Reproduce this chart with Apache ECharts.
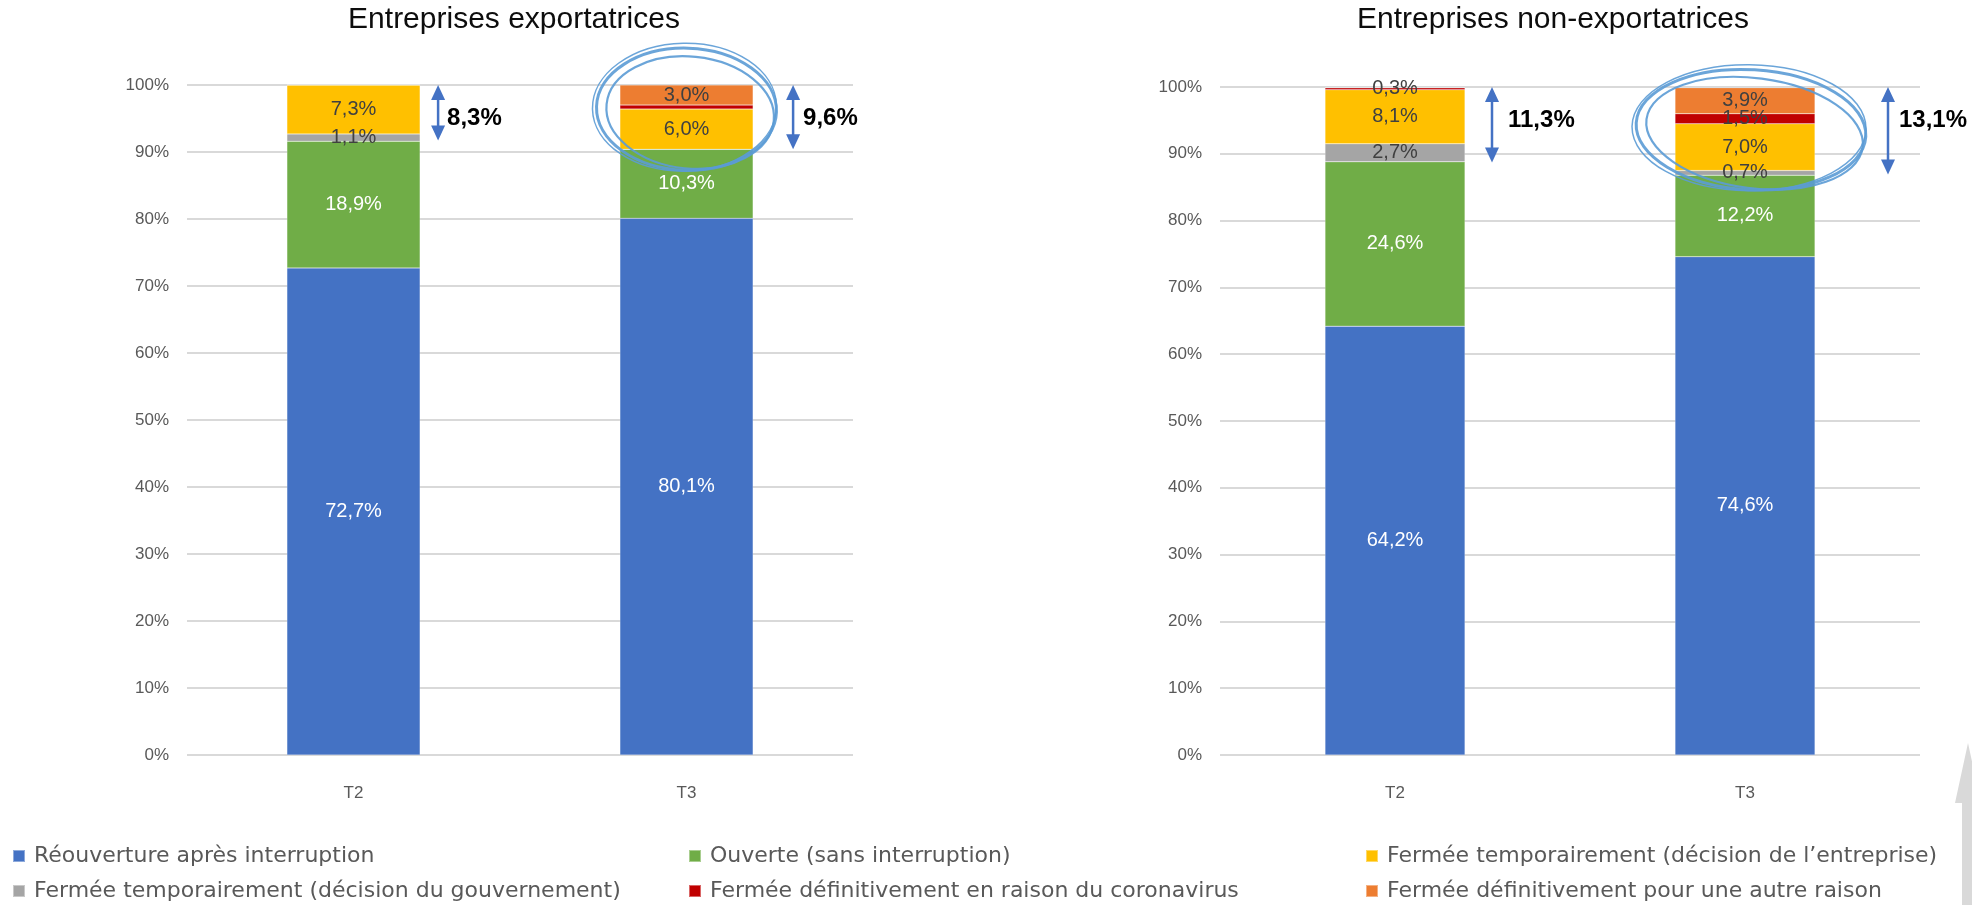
<!DOCTYPE html>
<html>
<head>
<meta charset="utf-8">
<script src="https://cdn.jsdelivr.net/npm/echarts@6/dist/echarts.min.js"></script>
<style>
  html, body { margin: 0; padding: 0; background: #fff; }
  #graphique { width: 1972px; height: 905px; }
</style>
</head>
<body>
<div id="graphique"></div>
<script>
// catégories et séries
const trimestres = ['T2', 'T3'];
const nomsSeries = [
  'Réouverture après interruption',
  'Ouverte (sans interruption)',
  'Fermée temporairement (décision du gouvernement)',
  'Fermée temporairement (décision de l’entreprise)',
  'Fermée définitivement en raison du coronavirus',
  'Fermée définitivement pour une autre raison'
];
const couleurs = ['#4472C4', '#70AD47', '#A5A5A5', '#FFC000', '#C00000', '#ED7D31'];

// Entreprises exportatrices (%)
const expReouverture = [72.7, 80.1];
const expOuverte = [18.9, 10.3];
const expFermeeGouv = [1.1, 0];
const expFermeeEntreprise = [7.3, 6.0];
const expDefCorona = [0, 0.6];
const expDefAutre = [0, 3.0];
const expEcart = [8.3, 9.6];

// Entreprises non-exportatrices (%)
const nonExpReouverture = [64.2, 74.6];
const nonExpOuverte = [24.6, 12.2];
const nonExpFermeeGouv = [2.7, 0.7];
const nonExpFermeeEntreprise = [8.1, 7.0];
const nonExpDefCorona = [0.3, 1.5];
const nonExpDefAutre = [0, 3.9];
const nonExpEcart = [11.3, 13.1];

// étiquettes non affichées : [série, trimestre]
const expSansEtiquette = [[4, 1]];
const nonExpSansEtiquette = [];

const police = 'Liberation Sans, Arial, sans-serif';
const bleuFleche = '#4472C4';
const bleuCercle = '#5B9BD5';

function fmt(v) {
  return v.toFixed(1).replace('.', ',') + '%';
}

function seriesBarres(valeurs, grille, pile, masques) {
  return valeurs.map((vals, i) => ({
    name: nomsSeries[i],
    type: 'bar',
    stack: pile,
    xAxisIndex: grille,
    yAxisIndex: grille,
    barWidth: '40%',
    itemStyle: { color: couleurs[i], borderColor: 'rgba(255,255,255,0.4)', borderWidth: 0.5 },
    label: {
      show: true,
      position: 'inside',
      fontFamily: police,
      fontSize: 20,
      color: i < 2 ? '#ffffff' : '#404040',
      formatter: p => {
        if (p.value === 0) return '';
        if (masques.some(m => m[0] === i && m[1] === p.dataIndex)) return '';
        return fmt(p.value);
      }
    },
    emphasis: { disabled: true },
    data: vals
  }));
}

// flèches + annotations entourées
function dessin(reglages) {
  return function (params, api) {
    const cat = api.value(0);
    const ecart = api.value(1);
    const haut = api.coord([cat, 100]);
    const bas = api.coord([cat, 100 - ecart]);
    const yTexte = api.coord([cat, 95])[1];
    const demiBarre = api.size([1, 0])[0] * 0.2;
    const x = haut[0] + demiBarre + reglages.fleche[cat];
    const enfants = [
      { type: 'line', shape: { x1: x, y1: haut[1] + 10, x2: x, y2: bas[1] - 10 },
        style: { stroke: bleuFleche, lineWidth: 2.5 } },
      { type: 'polygon', shape: { points: [[x, haut[1]], [x - 7, haut[1] + 15], [x + 7, haut[1] + 15]] },
        style: { fill: bleuFleche } },
      { type: 'polygon', shape: { points: [[x, bas[1]], [x - 7, bas[1] - 15], [x + 7, bas[1] - 15]] },
        style: { fill: bleuFleche } },
      { type: 'text', style: {
          text: fmt(ecart), x: x + reglages.texte[cat], y: yTexte,
          fill: '#000', fontSize: 24, fontWeight: 'bold', fontFamily: police,
          align: 'left', verticalAlign: 'middle' } }
    ];
    if (cat === 1) {
      const e = reglages.cercle;
      const cx = haut[0] + e.dx;
      const cy = api.coord([cat, 100 - ecart / 2])[1] + e.dy;
      const traits = [
        { rx: e.rx, ry: e.ry, rot: e.rot, w: 3, ox: 0, oy: 0 },
        { rx: e.rx - 6, ry: e.ry - 5, rot: e.rot - 0.07, w: 2.2, ox: 4, oy: 3 },
        { rx: e.rx + 2, ry: e.ry + 3, rot: e.rot + 0.05, w: 1.5, ox: -2, oy: -2 }
      ];
      traits.forEach(t => enfants.push({
        type: 'ellipse',
        shape: { cx: cx + t.ox, cy: cy + t.oy, rx: t.rx, ry: t.ry },
        rotation: t.rot, originX: cx, originY: cy,
        style: { fill: 'none', stroke: bleuCercle, lineWidth: t.w, opacity: 0.9 }
      }));
    }
    return { type: 'group', children: enfants };
  };
}

const axeY = (grille) => ({
  type: 'value', gridIndex: grille, min: 0, max: 100, interval: 10,
  axisLine: { show: false }, axisTick: { show: false },
  axisLabel: { formatter: '{value}%', color: '#595959', fontSize: 17, fontFamily: police, margin: 18 },
  splitLine: { lineStyle: { color: '#d9d9d9', width: 2 } }
});
const axeX = (grille) => ({
  type: 'category', gridIndex: grille, data: trimestres,
  axisLine: { show: false }, axisTick: { show: false },
  axisLabel: { color: '#595959', fontSize: 17, fontFamily: police, margin: 30 }
});

const legendeCommune = {
  orient: 'vertical', top: 845, padding: 0, itemWidth: 12, itemHeight: 12, itemGap: 13, icon: 'rect',
  textStyle: { color: '#595959', fontSize: 22, fontFamily: 'DejaVu Sans, sans-serif', padding: [0, 0, 0, 4] },
  selectedMode: false
};

const option = {
  animation: false,
  backgroundColor: '#ffffff',
  title: [
    { text: 'Entreprises exportatrices', left: 514, top: 5, padding: 0, textAlign: 'center',
      textStyle: { fontSize: 30, fontWeight: 'normal', color: '#0d0d0d', fontFamily: police } },
    { text: 'Entreprises non-exportatrices', left: 1553, top: 5, padding: 0, textAlign: 'center',
      textStyle: { fontSize: 30, fontWeight: 'normal', color: '#0d0d0d', fontFamily: police } }
  ],
  grid: [
    { left: 187, top: 85, width: 666, height: 670 },
    { left: 1220, top: 87, width: 700, height: 668 }
  ],
  xAxis: [axeX(0), axeX(1)],
  yAxis: [axeY(0), axeY(1)],
  legend: [
    Object.assign({}, legendeCommune, { left: 12, data: [nomsSeries[0], nomsSeries[2]] }),
    Object.assign({}, legendeCommune, { left: 688, data: [nomsSeries[1], nomsSeries[4]] }),
    Object.assign({}, legendeCommune, { left: 1365, data: [nomsSeries[3], nomsSeries[5]] })
  ],
  graphic: [
    { type: 'polygon', silent: true,
      shape: { points: [[1968, 743], [1955, 803], [1962, 803], [1962, 905], [1990, 905], [1990, 803], [1981, 803]] },
      style: { fill: '#d9d9d9' } }
  ],
  series: [
    ...seriesBarres([expReouverture, expOuverte, expFermeeGouv, expFermeeEntreprise, expDefCorona, expDefAutre],
      0, 'exp', expSansEtiquette),
    ...seriesBarres([nonExpReouverture, nonExpOuverte, nonExpFermeeGouv, nonExpFermeeEntreprise, nonExpDefCorona, nonExpDefAutre],
      1, 'nonexp', nonExpSansEtiquette),
    {
      type: 'custom', xAxisIndex: 0, yAxisIndex: 0, z: 10, silent: true,
      renderItem: dessin({ fleche: [18, 40], texte: [9, 10], cercle: { dx: 0, dy: -8, rx: 90, ry: 61, rot: -0.03 } }),
      encode: { x: 0, y: 1 },
      data: expEcart.map((v, i) => [i, v])
    },
    {
      type: 'custom', xAxisIndex: 1, yAxisIndex: 1, z: 10, silent: true,
      renderItem: dessin({ fleche: [27, 73], texte: [16, 11], cercle: { dx: 6, dy: -1, rx: 115, ry: 60, rot: -0.06 } }),
      encode: { x: 0, y: 1 },
      data: nonExpEcart.map((v, i) => [i, v])
    }
  ]
};

const graphique = echarts.init(document.getElementById('graphique'));
graphique.setOption(option);
</script>
</body>
</html>
